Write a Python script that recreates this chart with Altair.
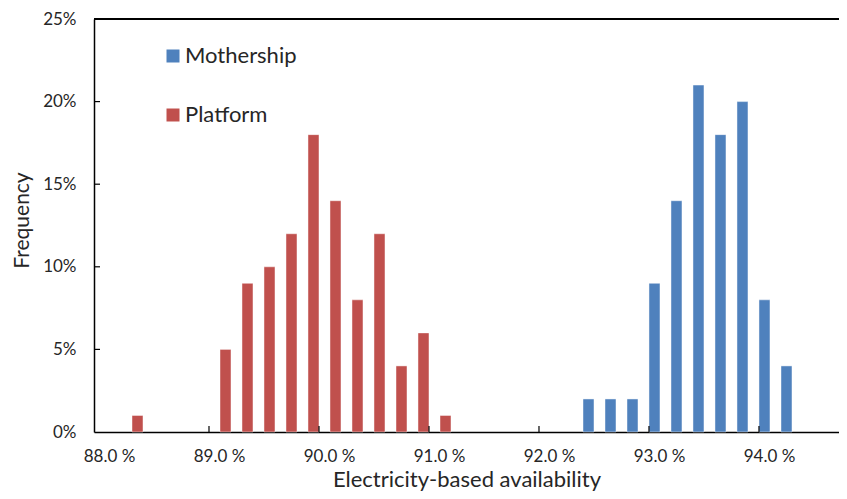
import altair as alt
import pandas as pd

# Data
platform_bins = [88.35, 89.15, 89.35, 89.55, 89.75, 89.95, 90.15, 90.35, 90.55, 90.75, 90.95, 91.15]
platform_freq = [1, 5, 9, 10, 12, 18, 14, 8, 12, 4, 6, 1]
mothership_bins = [92.45, 92.65, 92.85, 93.05, 93.25, 93.45, 93.65, 93.85, 94.05, 94.25]
mothership_freq = [2, 2, 2, 9, 14, 21, 18, 20, 8, 4]
series_names = ["Mothership", "Platform"]
series_colors = ["#4F81BD", "#C0504D"]
x_ticks = [88, 89, 90, 91, 92, 93, 94]
y_ticks = [0, 5, 10, 15, 20, 25]

FONT = "Lato"
TXT = "#262626"
W, H = 745, 413

bars_df = pd.DataFrame(
    {"bin": platform_bins, "freq": platform_freq, "series": "Platform"}
)
bars_df = pd.concat(
    [bars_df, pd.DataFrame({"bin": mothership_bins, "freq": mothership_freq, "series": "Mothership"})],
    ignore_index=True,
)
xt_df = pd.DataFrame({"bin": x_ticks[1:]})
yt_df = pd.DataFrame({"freq": y_ticks[1:]})

xscale = alt.Scale(domain=[88.0, 94.682], nice=False, zero=False)
yscale = alt.Scale(domain=[0, 25], nice=False)

xaxis = alt.Axis(
    values=x_ticks, labelExpr="format(datum.value, '.1f') + ' %'", grid=False, ticks=False,
    domainColor="black", domainWidth=1.5, labelFontSize=17, labelFont=FONT, labelColor=TXT,
    labelPadding=16, labelOffset=10, title="Electricity-based availability", titleFontSize=22,
    titleFont=FONT, titleFontWeight="normal", titleColor=TXT, titleY=54,
    titleBaseline="alphabetic",
)
yaxis = alt.Axis(
    values=y_ticks, labelExpr="datum.value + '%'", grid=False, ticks=False,
    domainColor="black", domainWidth=1.5, labelFontSize=17, labelFont=FONT, labelColor=TXT,
    labelPadding=18, title="Frequency", titleFontSize=21, titleFont=FONT,
    titleFontWeight="normal", titleColor=TXT, titleX=-66, titleY=201, titleAngle=-90,
    titleAlign="center", titleBaseline="alphabetic",
)

bars = alt.Chart(bars_df).mark_bar(size=11, stroke="#ffffff", strokeOpacity=0.45, strokeWidth=1).encode(
    x=alt.X("bin:Q", scale=xscale, axis=xaxis),
    y=alt.Y("freq:Q", scale=yscale, axis=yaxis),
    color=alt.Color(
        "series:N",
        scale=alt.Scale(domain=series_names, range=series_colors),
        legend=alt.Legend(
            orient="none", legendX=68, legendY=26, title=None, symbolType="square",
            symbolSize=169, symbolStrokeWidth=0, labelFontSize=22, labelFont=FONT,
            labelColor=TXT, rowPadding=37, labelOffset=1,
        ),
    ),
)

xticks = alt.Chart(xt_df).mark_rule(color="black", strokeWidth=1.2).encode(
    x=alt.X("bin:Q", scale=xscale, axis=xaxis),
    y=alt.value(H),
    y2=alt.value(H - 6),
)
yticks = alt.Chart(yt_df).mark_rule(color="black", strokeWidth=1.2).encode(
    y=alt.Y("freq:Q", scale=yscale, axis=yaxis),
    x=alt.value(0),
    x2=alt.value(6),
)
topline = alt.Chart(yt_df).mark_rule(color="black", strokeWidth=1.5).encode(
    y=alt.value(0), x=alt.value(0), x2=alt.value(W)
)

chart = alt.layer(bars, xticks, yticks, topline).properties(
    width=W, height=H,
    autosize=alt.AutoSizeParams(type="none"),
    padding={"left": 86, "top": 11, "right": 0, "bottom": 59},
).configure_view(stroke=None)

chart.save("out.html", embed_options={"renderer": "svg", "actions": False})
